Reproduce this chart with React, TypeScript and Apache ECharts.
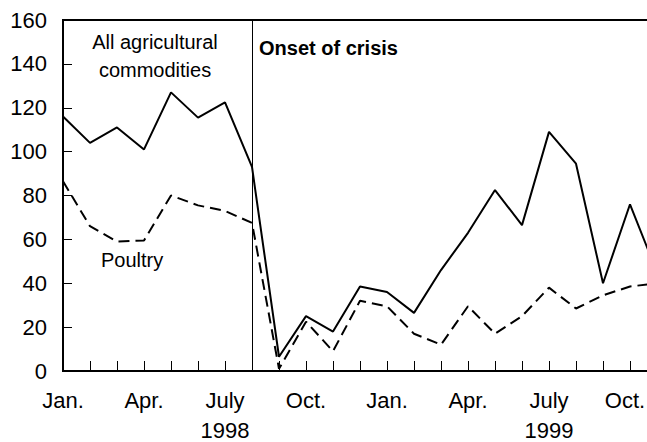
import React, { useEffect, useRef } from "react";
import * as echarts from "echarts";

const months = ["Jan.", "Feb.", "Mar.", "Apr.", "May", "June", "July", "Aug.", "Sep.", "Oct.", "Nov.", "Dec."];
const years = ["1998", "1999"];
const categories: string[] = [];
years.forEach((y) => months.forEach((m) => categories.push(`${m} ${y}`)));
const cats = categories.slice(0, 23); // Jan. 1998 .. Nov. 1999

const allAgri = [116, 104, 111, 101, 127, 115.5, 122.5, 93, 6.5, 25, 18, 38.5, 36, 26.5, 46, 63, 82.5, 66.5, 109, 94.5, 40, 76, 45];
const poultry = [86.5, 66, 59, 59.5, 80, 75.5, 73, 67.5, 1, 22.5, 9, 32, 29.5, 17, 12, 29.5, 17, 25, 38, 28.5, 34.5, 38.5, 40];
const crisisMonth = "Aug. 1998";
const yearLabelMonth = "July";
const edgeLabel = "Oct. 1999";

const FONT = "Liberation Sans, Arial, sans-serif";

export default function App() {
  const ref = useRef<HTMLDivElement>(null);
  useEffect(() => {
    document.body.style.margin = "0";
    const chart = echarts.init(ref.current!, null, { renderer: "svg" });
    chart.setOption({
      animation: false,
      grid: {
        left: 63,
        top: 20,
        right: 10,
        bottom: 71,
        show: true,
        borderColor: "#000",
        borderWidth: 2,
        containLabel: false,
      },
      xAxis: [
        {
          type: "category",
          data: cats,
          boundaryGap: false,
          axisLine: { lineStyle: { color: "#000", width: 2 } },
          axisTick: { inside: true, length: 10, interval: 0, lineStyle: { color: "#000", width: 1 } },
          axisLabel: {
            interval: 2,
            color: "#000",
            fontSize: 22,
            fontFamily: FONT,
            margin: 18,
            formatter: (v: string) => {
              const m = v.split(" ")[0];
              return v === edgeLabel ? `{e|${m}}` : m;
            },
            rich: {
              e: { color: "#000", fontSize: 22, fontFamily: FONT, padding: [0, 10, 0, 0] },
            },
          },
          splitLine: { show: false },
        },
        {
          type: "category",
          data: cats,
          boundaryGap: false,
          position: "bottom",
          offset: 30,
          axisLine: { show: false },
          axisTick: { show: false },
          axisLabel: {
            interval: 0,
            color: "#000",
            fontSize: 22,
            fontFamily: FONT,
            margin: 18,
            formatter: (v: string) => {
              const [m, y] = v.split(" ");
              return m === yearLabelMonth ? y : "";
            },
          },
          splitLine: { show: false },
        },
      ],
      yAxis: {
        type: "value",
        min: 0,
        max: 160,
        interval: 20,
        axisLine: { show: true, lineStyle: { color: "#000", width: 2 } },
        axisTick: { show: true, inside: true, length: 9, lineStyle: { color: "#000", width: 1 } },
        axisLabel: { color: "#000", fontSize: 22, fontFamily: FONT, margin: 16 },
        splitLine: { show: false },
      },
      series: [
        {
          name: "All agricultural commodities",
          type: "line",
          data: allAgri,
          symbol: "none",
          lineStyle: { color: "#000", width: 2 },
          markLine: {
            silent: true,
            symbol: "none",
            label: { show: false },
            lineStyle: { color: "#000", width: 1, type: "solid" },
            data: [{ xAxis: crisisMonth }],
          },
        },
        {
          name: "Poultry",
          type: "line",
          data: poultry,
          symbol: "none",
          lineStyle: { color: "#000", width: 2, type: [11, 6] },
        },
      ],
      graphic: [
        {
          type: "text",
          x: 155,
          y: 28,
          style: {
            text: "All agricultural\ncommodities",
            fill: "#000",
            font: `20px ${FONT}`,
            align: "center",
            verticalAlign: "top",
            lineHeight: 28,
          },
        },
        {
          type: "text",
          x: 259,
          y: 48,
          style: {
            text: "Onset of crisis",
            fill: "#000",
            font: `bold 20px ${FONT}`,
            align: "left",
            verticalAlign: "middle",
          },
        },
        {
          type: "text",
          x: 101,
          y: 260,
          style: {
            text: "Poultry",
            fill: "#000",
            font: `20px ${FONT}`,
            align: "left",
            verticalAlign: "middle",
          },
        },
      ],
    });
    return () => chart.dispose();
  }, []);
  return (
    <div style={{ width: 647, height: 442, overflow: "hidden" }}>
      <div ref={ref} style={{ width: 667, height: 442 }} />
    </div>
  );
}
